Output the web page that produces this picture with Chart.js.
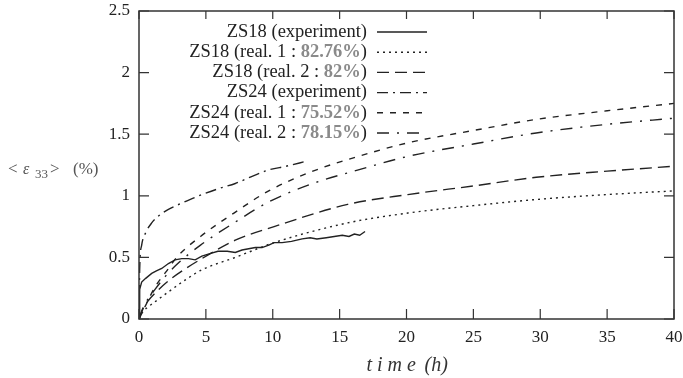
<!DOCTYPE html>
<html>
<head>
<meta charset="utf-8">
<script src="https://cdn.jsdelivr.net/npm/chart.js@4.4.1/dist/chart.umd.min.js"></script>
<style>
  body { margin: 0; background: #fff; }
  #wrap { width: 683px; height: 378px; position: relative; }
</style>
</head>
<body>
<div id="wrap"><canvas id="creepChart"></canvas></div>
<script>
// time (h) and <eps33> (%)
const zs18ExpT = [0, 0.05, 0.2, 0.5, 0.95, 1.3, 1.7, 2.2, 2.7, 3.2, 3.7, 4.2, 4.7, 5.3, 5.9, 6.6, 7.2, 7.7, 8.2, 8.7, 9.2, 9.7, 10.1, 10.7, 11.4, 12.2, 12.8, 13.3, 14, 14.6, 15.2, 15.7, 16.1, 16.5, 16.9];
const zs18ExpV = [0, 0.24, 0.30, 0.33, 0.37, 0.39, 0.41, 0.45, 0.48, 0.49, 0.49, 0.48, 0.51, 0.53, 0.55, 0.55, 0.54, 0.56, 0.57, 0.58, 0.58, 0.60, 0.62, 0.62, 0.63, 0.65, 0.66, 0.65, 0.66, 0.67, 0.68, 0.67, 0.69, 0.68, 0.71];

const modelT = [0, 0.3, 0.7, 1.2, 2.2, 3.5, 4.7, 7.2, 10.1, 15.6, 20.1, 25, 29.7, 35, 40];
const zs18Real1V = [0, 0.06, 0.10, 0.14, 0.22, 0.32, 0.40, 0.50, 0.62, 0.78, 0.86, 0.92, 0.97, 1.01, 1.04];
const zs18Real2V = [0, 0.09, 0.15, 0.21, 0.31, 0.41, 0.49, 0.64, 0.75, 0.93, 1.01, 1.08, 1.15, 1.20, 1.24];

const zs24ExpT = [0, 0.05, 0.2, 0.5, 0.95, 1.5, 2.2, 3.4, 4.7, 6, 7.2, 8.5, 9.7, 11, 12.5];
const zs24ExpV = [0, 0.40, 0.60, 0.70, 0.78, 0.84, 0.89, 0.95, 1.01, 1.06, 1.10, 1.16, 1.21, 1.24, 1.28];

const zs24T = [0, 0.45, 1.2, 2, 2.9, 4.6, 7.1, 9.7, 13, 16.4, 20.1, 25, 29.7, 35, 40];
const zs24Real1V = [0, 0.10, 0.26, 0.38, 0.51, 0.67, 0.86, 1.04, 1.20, 1.32, 1.43, 1.53, 1.62, 1.69, 1.75];
const zs24Real2V = [0, 0.12, 0.24, 0.35, 0.45, 0.60, 0.78, 0.95, 1.10, 1.21, 1.32, 1.42, 1.51, 1.58, 1.63];

const seriesLabels = [
  'ZS18 (experiment)',
  'ZS18 (real. 1 : 82.76%)',
  'ZS18 (real. 2 : 82%)',
  'ZS24 (experiment)',
  'ZS24 (real. 1 : 75.52%)',
  'ZS24 (real. 2 : 78.15%)'
];
const xTicks = [0, 5, 10, 15, 20, 25, 30, 35, 40];
const yTicks = [0, 0.5, 1, 1.5, 2, 2.5];

const SERIF = '"Liberation Serif", "DejaVu Serif", serif';
const INK = '#222';

function pts(t, v) {
  return t.map((x, i) => ({ x: x, y: v[i] }));
}

function line(label, data, dash, smooth) {
  return {
    label: label,
    data: data,
    borderColor: INK,
    borderWidth: 1.4,
    borderDash: dash,
    pointRadius: 0,
    fill: false,
    tension: smooth ? 0.4 : 0,
    cubicInterpolationMode: smooth ? 'monotone' : 'default'
  };
}

/* frame with inward ticks on all four sides */
const framePlugin = {
  id: 'frame',
  afterDatasetsDraw(chart) {
    const ctx = chart.ctx;
    const a = chart.chartArea;
    const xs = chart.scales.x, ys = chart.scales.y;
    ctx.save();
    ctx.strokeStyle = '#333';
    ctx.lineWidth = 1.5;
    ctx.strokeRect(a.left, a.top, a.right - a.left, a.bottom - a.top);
    ctx.lineWidth = 1.2;
    ctx.beginPath();
    xTicks.forEach(v => {
      const p = xs.getPixelForValue(v);
      ctx.moveTo(p, a.bottom); ctx.lineTo(p, a.bottom - 10);
      ctx.moveTo(p, a.top); ctx.lineTo(p, a.top + 8);
    });
    yTicks.forEach(v => {
      const p = ys.getPixelForValue(v);
      ctx.moveTo(a.left, p); ctx.lineTo(a.left + 10, p);
      ctx.moveTo(a.right, p); ctx.lineTo(a.right - 10, p);
    });
    ctx.stroke();
    ctx.restore();
  }
};

/* legend: right aligned text, line sample on the right */
const legendPlugin = {
  id: 'rightLegend',
  afterDatasetsDraw(chart) {
    const ctx = chart.ctx;
    const a = chart.chartArea;
    const textRight = a.left + 228;
    const x0 = a.left + 238, x1 = a.left + 288;
    ctx.save();
    ctx.textBaseline = 'middle';
    chart.data.datasets.forEach((ds, i) => {
      const y = a.top + 21 + i * 20.2;
      const parts = ds.label.split(/(\d+(?:\.\d+)?%)/);
      const fonts = parts.map((p, k) => (k % 2 ? 'bold 18.5px ' : '18.5px ') + SERIF);
      let w = 0;
      parts.forEach((p, k) => { ctx.font = fonts[k]; w += ctx.measureText(p).width; });
      let x = textRight - w;
      ctx.textAlign = 'left';
      parts.forEach((p, k) => {
        ctx.font = fonts[k];
        ctx.fillStyle = k % 2 ? '#8a8a8a' : INK;
        ctx.fillText(p, x, y);
        x += ctx.measureText(p).width;
      });
      ctx.strokeStyle = INK;
      ctx.lineWidth = 1.4;
      ctx.setLineDash(ds.borderDash || []);
      ctx.beginPath();
      ctx.moveTo(x0, y); ctx.lineTo(x1, y);
      ctx.stroke();
      ctx.setLineDash([]);
    });
    ctx.restore();
  }
};

/* axis titles (the y one is horizontal, so drawn by hand) */
const titlePlugin = {
  id: 'axisTitles',
  afterDraw(chart) {
    const ctx = chart.ctx;
    const a = chart.chartArea;
    ctx.save();
    ctx.fillStyle = '#555';
    ctx.textBaseline = 'alphabetic';
    ctx.textAlign = 'left';
    const yb = 174;
    ctx.font = '17px ' + SERIF;
    ctx.fillText('<', 8, yb);
    ctx.font = 'italic 16px ' + SERIF;
    ctx.fillText('ε', 23, yb);
    ctx.font = '13px ' + SERIF;
    ctx.fillText('33', 35, yb + 4);
    ctx.font = '17px ' + SERIF;
    ctx.fillText('>', 50, yb);
    ctx.fillText('(%)', 73, yb);

    ctx.fillStyle = '#333';
    ctx.textAlign = 'left';
    ctx.font = 'italic 20px ' + SERIF;
    const cx = (a.left + a.right) / 2;
    ctx.fillText('t i m e', cx - 40, 371);
    ctx.fillText('(h)', cx + 18, 371);
    ctx.restore();
  }
};

new Chart(document.getElementById('creepChart'), {
  type: 'line',
  data: {
    datasets: [
      line(seriesLabels[0], pts(zs18ExpT, zs18ExpV), [], false),
      line(seriesLabels[1], pts(modelT, zs18Real1V), [2, 4], true),
      line(seriesLabels[2], pts(modelT, zs18Real2V), [12, 6], true),
      line(seriesLabels[3], pts(zs24ExpT, zs24ExpV), [11, 5, 2, 5], true),
      line(seriesLabels[4], pts(zs24T, zs24Real1V), [6, 7], true),
      line(seriesLabels[5], pts(zs24T, zs24Real2V), [12, 8, 2, 8], true)
    ]
  },
  options: {
    responsive: true,
    maintainAspectRatio: false,
    animation: false,
    layout: { padding: { top: 11, right: 9, left: 0, bottom: 0 } },
    plugins: {
      legend: { display: false },
      tooltip: { enabled: false }
    },
    scales: {
      x: {
        type: 'linear',
        min: 0,
        max: 40,
        afterFit: s => { s.height = 59; s.paddingLeft = 0; s.paddingRight = 0; },
        afterBuildTicks: s => { s.ticks = xTicks.map(v => ({ value: v })); },
        grid: { display: false, drawTicks: false },
        border: { display: false },
        ticks: {
          padding: 8,
          color: INK,
          font: { family: SERIF, size: 17 },
          callback: v => String(v)
        }
      },
      y: {
        min: 0,
        max: 2.5,
        afterFit: s => { s.width = 139; s.paddingTop = 0; s.paddingBottom = 0; },
        afterBuildTicks: s => { s.ticks = yTicks.map(v => ({ value: v })); },
        grid: { display: false, drawTicks: false },
        border: { display: false },
        ticks: {
          padding: 9,
          color: INK,
          font: { family: SERIF, size: 17 },
          callback: v => String(v)
        }
      }
    }
  },
  plugins: [framePlugin, legendPlugin, titlePlugin]
});
</script>
</body>
</html>
